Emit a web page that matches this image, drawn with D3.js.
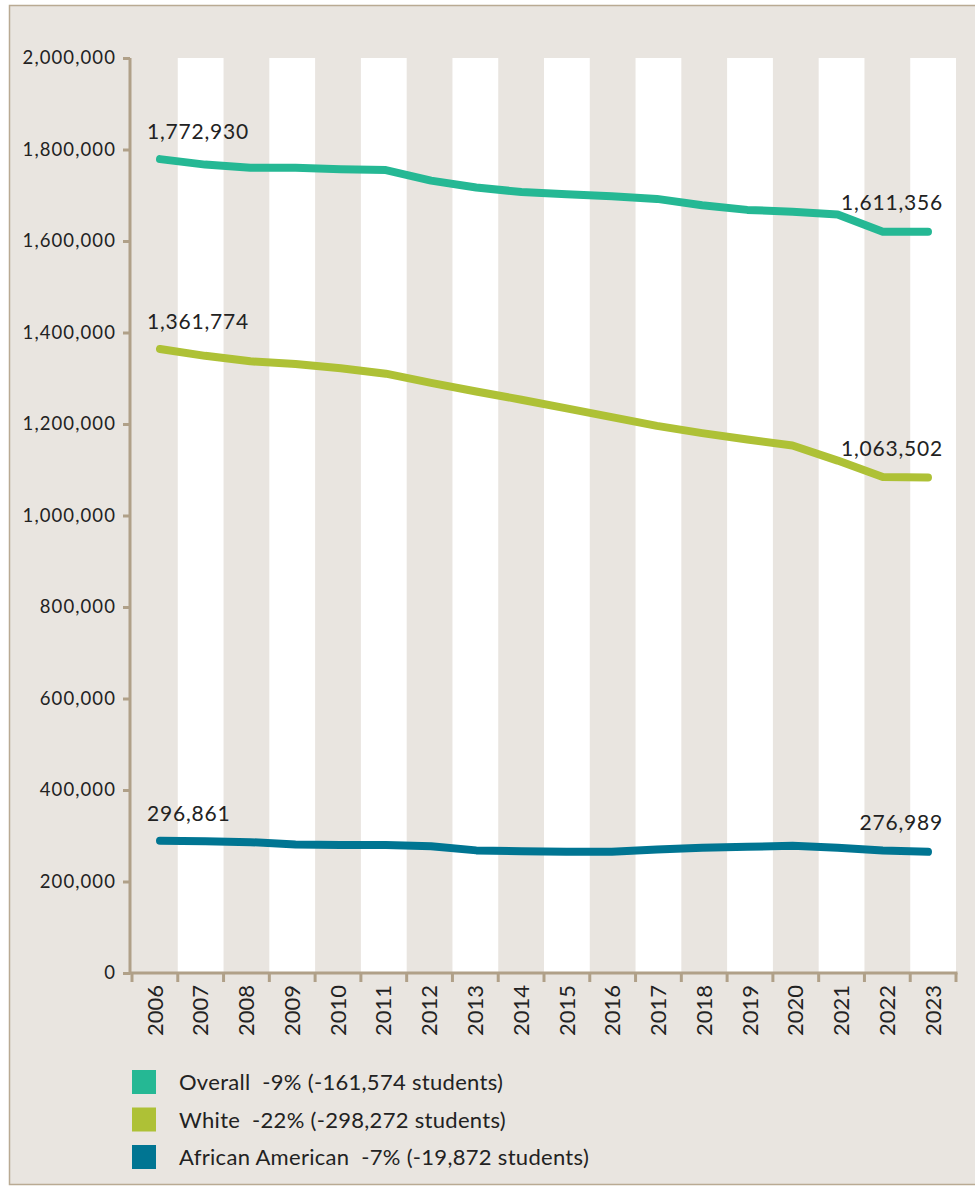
<!DOCTYPE html>
<html>
<head>
<meta charset="utf-8">
<script src="https://cdn.jsdelivr.net/npm/d3@7"></script>
<style>
  body { margin: 0; background: #fff; }
  text { font-family: Lato, "Open Sans", sans-serif; font-weight: 400; fill: #222; }
</style>
</head>
<body>
<svg></svg>
<script>
// enrollment by year
let years = ['2006','2007','2008','2009','2010','2011','2012','2013','2014','2015','2016','2017','2018','2019','2020','2021','2022','2023']

let overall = [1779000, 1767000, 1760000, 1760000, 1757000, 1755000, 1732000, 1717000, 1707000, 1702000, 1698000, 1692000, 1678000, 1668000, 1664000, 1658000, 1620000, 1620000]
let white = [1364000, 1349000, 1337000, 1331000, 1322000, 1310000, 1290000, 1271000, 1253000, 1234000, 1215000, 1196000, 1180000, 1166000, 1153000, 1120000, 1084000, 1083000]
let africanAmerican = [289000, 288000, 286000, 281000, 280000, 280000, 277000, 268000, 266000, 265000, 265000, 270000, 274000, 276000, 278000, 274000, 268000, 265000]

// labels printed at the start and end of each line
let startLabels = ['1,772,930', '1,361,774', '296,861']
let endLabels = ['1,611,356', '1,063,502', '276,989']

let seriesNames = ['Overall', 'White', 'African American']
let seriesChange = ['-9% (-161,574 students)', '-22% (-298,272 students)', '-7% (-19,872 students)']
let seriesColors = ['#25b894', '#aec136', '#007592']

let yTicks = d3.range(0, 2000001, 200000)

let width = 975
let height = 1187
let axisColor = '#b0a088'

let svg = d3.select('svg')
svg.attr('width', width).attr('height', height)

// card background with thin border
svg.append('rect')
    .attr('x', 9.5).attr('y', 5.5)
    .attr('width', 975).attr('height', 1179)
    .attr('fill', '#e9e5e0')
    .attr('stroke', '#b9aa93')
    .attr('stroke-width', 1.5)

let plotLeft = 132, plotRight = 956, plotTop = 58, plotBottom = 973

let xBand = d3.scaleBand().domain(years).range([plotLeft, plotRight])
// line points sit a bit inside the bands
let xPoint = d3.scalePoint().domain(years).range([160, 928])
let y = d3.scaleLinear().domain([0, 2000000]).range([plotBottom, plotTop])

// white stripes on every other year
svg.append('g')
    .selectAll('rect')
    .data(years.filter((d, i) => i % 2 === 1))
    .enter().append('rect')
    .attr('x', d => xBand(d))
    .attr('y', plotTop)
    .attr('width', xBand.bandwidth())
    .attr('height', plotBottom - plotTop)
    .attr('fill', '#ffffff')

// y axis
let yAxis = svg.append('g')
    .attr('transform', 'translate(130,0)')
    .call(d3.axisLeft(y).tickValues(yTicks).tickFormat(d3.format(',')).tickSize(7).tickPadding(7))
yAxis.select('.domain').attr('stroke', axisColor).attr('stroke-width', 3)
    .attr('d', 'M0,' + plotTop + 'V' + (plotBottom + 1.5))
yAxis.selectAll('.tick line').attr('stroke', axisColor).attr('stroke-width', 3)
yAxis.selectAll('.tick text')
    .style('font-size', '18.5px')
    .attr('letter-spacing', '1.1px')
    .attr('fill', '#222')

// x axis: ticks on band edges, labels rotated in band centers
let edges = years.map(d => xBand(d)).concat([xBand.range()[1]])
let xg = svg.append('g')
xg.append('line')
    .attr('x1', 130).attr('x2', plotRight + 1.5)
    .attr('y1', plotBottom).attr('y2', plotBottom)
    .attr('stroke', axisColor).attr('stroke-width', 3)
xg.selectAll('.xtick')
    .data(edges)
    .enter().append('line')
    .attr('class', 'xtick')
    .attr('x1', d => d).attr('x2', d => d)
    .attr('y1', plotBottom).attr('y2', plotBottom + 9)
    .attr('stroke', axisColor).attr('stroke-width', 3)
xg.selectAll('text')
    .data(years)
    .enter().append('text')
    .attr('transform', d => 'translate(' + (xBand(d) + xBand.bandwidth() / 2) + ',985) rotate(-90)')
    .attr('text-anchor', 'end')
    .attr('dy', '0.35em')
    .style('font-size', '22px')
    .text(d => d)

// lines
let line = d3.line()
    .x((d, i) => xPoint(years[i]))
    .y(d => y(d))

let allSeries = [overall, white, africanAmerican]

svg.append('g')
    .selectAll('path')
    .data(allSeries)
    .enter().append('path')
    .attr('d', line)
    .attr('fill', 'none')
    .attr('stroke', (d, i) => seriesColors[i])
    .attr('stroke-width', 8)
    .attr('stroke-linecap', 'round')
    .attr('stroke-linejoin', 'round')

// start / end value labels
let labels = svg.append('g')
labels.selectAll('.start')
    .data(allSeries)
    .enter().append('text')
    .attr('class', 'start')
    .attr('x', xPoint(years[0]) - 13)
    .attr('y', d => y(d[0]) - 20)
    .attr('letter-spacing', '0.8px')
    .style('font-size', '21px')
    .text((d, i) => startLabels[i])
labels.selectAll('.end')
    .data(allSeries)
    .enter().append('text')
    .attr('class', 'end')
    .attr('x', xPoint(years[years.length - 1]) + 15)
    .attr('y', d => y(d[d.length - 1]) - 22)
    .attr('text-anchor', 'end')
    .attr('letter-spacing', '0.8px')
    .style('font-size', '21px')
    .text((d, i) => endLabels[i])

// legend
let legend = svg.append('g')
    .selectAll('g')
    .data(seriesNames)
    .enter().append('g')
    .attr('transform', (d, i) => 'translate(132,' + (1070 + i * 37.5) + ')')
legend.append('rect')
    .attr('width', 24).attr('height', 24)
    .attr('fill', (d, i) => seriesColors[i])
legend.append('text')
    .attr('x', 47)
    .attr('y', 20)
    .attr('xml:space', 'preserve')
    .style('white-space', 'pre')
    .style('font-size', '22px')
    .attr('letter-spacing', '0.3px')
    .text((d, i) => d + '  ' + seriesChange[i])
</script>
</body>
</html>
